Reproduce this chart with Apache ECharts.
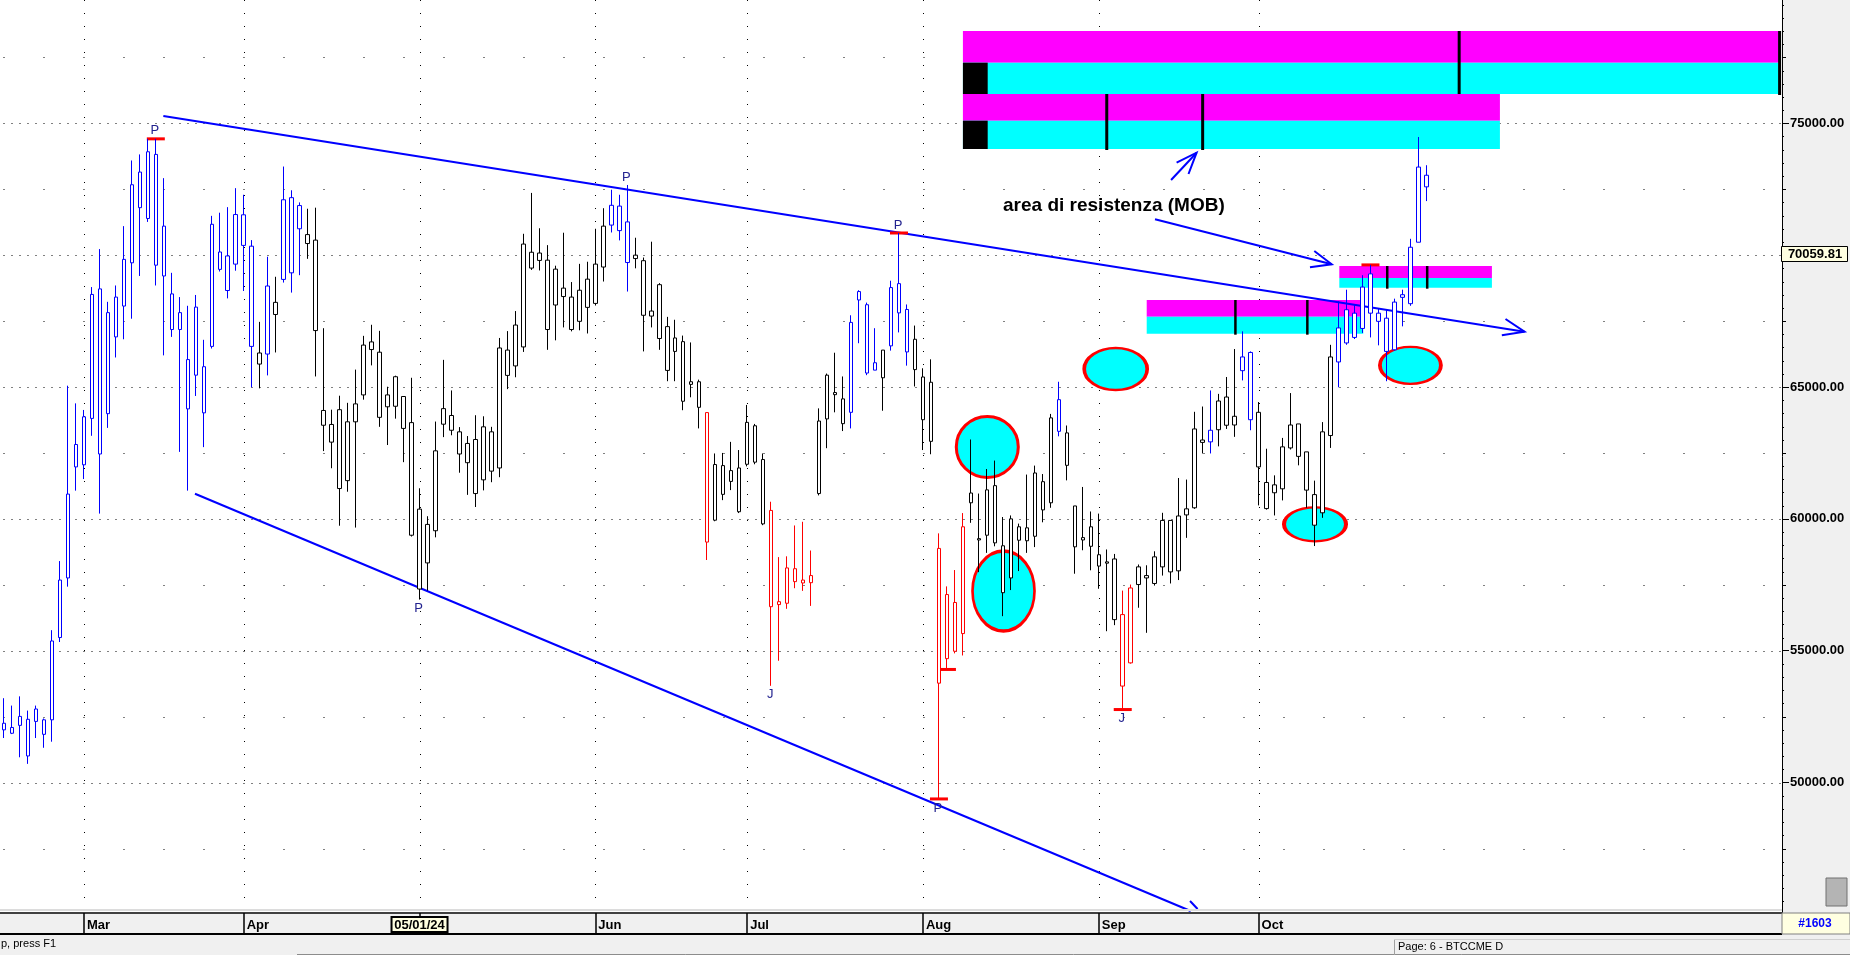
<!DOCTYPE html>
<html><head><meta charset="utf-8">
<script src="https://cdn.jsdelivr.net/npm/echarts@6/dist/echarts.min.js"></script>
<style>html,body{margin:0;padding:0;background:#f0f0f0}#c{width:1850px;height:955px}</style>
</head><body><div id="c"></div>
<script>
// ---------------- DATA ----------------
const dates = `02/15/24 02/16/24 02/20/24 02/21/24 02/22/24 02/23/24 02/26/24 02/27/24 02/28/24 02/29/24
03/01/24 03/04/24 03/05/24 03/06/24 03/07/24 03/08/24 03/11/24 03/12/24 03/13/24 03/14/24 03/15/24 03/18/24 03/19/24 03/20/24 03/21/24 03/22/24 03/25/24 03/26/24 03/27/24 03/28/24
04/01/24 04/02/24 04/03/24 04/04/24 04/05/24 04/08/24 04/09/24 04/10/24 04/11/24 04/12/24 04/15/24 04/16/24 04/17/24 04/18/24 04/19/24 04/22/24 04/23/24 04/24/24 04/25/24 04/26/24 04/29/24 04/30/24
05/01/24 05/02/24 05/03/24 05/06/24 05/07/24 05/08/24 05/09/24 05/10/24 05/13/24 05/14/24 05/15/24 05/16/24 05/17/24 05/20/24 05/21/24 05/22/24 05/23/24 05/24/24 05/28/24 05/29/24 05/30/24 05/31/24
06/03/24 06/04/24 06/05/24 06/06/24 06/07/24 06/10/24 06/11/24 06/12/24 06/13/24 06/14/24 06/17/24 06/18/24 06/20/24 06/21/24 06/24/24 06/25/24 06/26/24 06/27/24 06/28/24
07/01/24 07/02/24 07/03/24 07/05/24 07/08/24 07/09/24 07/10/24 07/11/24 07/12/24 07/15/24 07/16/24 07/17/24 07/18/24 07/19/24 07/22/24 07/23/24 07/24/24 07/25/24 07/26/24 07/29/24 07/30/24 07/31/24
08/01/24 08/02/24 08/05/24 08/06/24 08/07/24 08/08/24 08/09/24 08/12/24 08/13/24 08/14/24 08/15/24 08/16/24 08/19/24 08/20/24 08/21/24 08/22/24 08/23/24 08/26/24 08/27/24 08/28/24 08/29/24 08/30/24
09/03/24 09/04/24 09/05/24 09/06/24 09/09/24 09/10/24 09/11/24 09/12/24 09/13/24 09/16/24 09/17/24 09/18/24 09/19/24 09/20/24 09/23/24 09/24/24 09/25/24 09/26/24 09/27/24 09/30/24
10/01/24 10/02/24 10/03/24 10/04/24 10/07/24 10/08/24 10/09/24 10/10/24 10/11/24 10/14/24 10/15/24 10/16/24 10/17/24 10/18/24 10/21/24 10/22/24 10/23/24 10/24/24 10/25/24 10/28/24 10/29/24 10/30/24`.trim().split(/\s+/);

const open = [52250,51870,52510,52400,52320,52380,52380,55500,57760,61970,
62050,63810,68720,63990,66900,68070,69710,73150,71390,73820,
71100,68530,67820,64170,68030,65770,66540,70120,69970,69660,
71530,70340,65870,66250,68210,69080,72180,71000,70440,70570,
64110,63580,64140,61450,63680,64700,66710,66320,64250,65390,
64640,63650,60370,58330,59550,64180,63920,63300,62130,63010,
61480,63300,61930,66400,65800,66520,70110,70080,69810,68110,
68750,68410,67490,69090,68170,69550,71140,71860,71260,70000,
69790,67690,68880,67290,66350,66720,65200,65200,64030,59950,
62020,61420,61930,62070,63530,62250,60320,56860,56800,58110,
57680,57580,60960,63790,64790,64550,64040,68620,68120,65920,
66400,66560,68920,67940,66810,65380,65180,58880,54700,56830,
55650,60610,59250,59380,61260,58980,57760,59700,59170,59340,
61410,60610,64520,63260,60490,59200,59700,58640,58370,58480,
56370,54540,57510,57760,57550,58180,59940,58030,60380,60420,
62990,62920,63380,64620,63890,65620,66310,64040,61380,60990,
61140,62690,63600,62540,60920,60230,63160,65950,66670,67800,
67220,69290,67800,67610,66410,68500,68160,70490,73030];

const high = [53200,52920,53270,52730,52920,52430,55780,58400,65050,64380,
64130,68790,70230,68230,68850,71100,73590,73820,74410,74410,
72920,69330,68410,68080,68490,66790,71490,71610,71820,72540,
72290,70570,67470,69940,69180,73360,72460,72000,71760,71800,
67230,64140,64670,64400,65660,66940,67360,67130,65010,65430,
64650,65350,61160,60100,63690,66030,64870,63480,63140,63930,
63890,63490,66860,67120,67880,70810,72360,71020,70380,69600,
70850,68980,69670,69750,71000,71780,72480,72290,72660,70660,
69910,70510,68940,67660,67550,66950,66690,65280,64030,62480,
62500,62920,62610,64320,63600,62480,60650,58550,58580,59750,
59890,58800,64190,65510,66300,65400,67720,68670,68200,67230,
66400,69030,70840,68130,67330,65710,66050,59450,57440,58060,
60220,63010,60960,61890,62210,60070,60130,59820,61680,62020,
61700,63980,65200,63540,60490,61210,60280,60200,58840,58670,
57280,57510,58270,58240,58770,60230,59940,61550,61490,64060,
64260,64870,64740,65380,66440,67110,66350,64430,62660,61650,
63070,64770,63600,62540,61450,63670,66600,68250,68690,68120,
69240,69630,67960,67930,68350,68690,70620,74480,73410];

const low = [51690,51840,50960,50710,51690,51320,51550,55330,57430,61070,
61510,63150,60200,63450,66120,66810,67590,69210,71260,68850,
66200,66900,62540,61070,64660,62720,66460,69380,68360,69410,
68640,64990,64950,65440,66310,68960,68580,69240,69860,65400,
62570,61920,59740,61030,59670,64520,65820,63490,62800,63800,
62150,59330,56940,57280,59300,63100,63170,61750,60910,60450,
61080,61390,61580,64920,65370,66330,69440,69420,66410,66770,
67260,67110,67150,67030,68090,69000,70860,70560,68620,69500,
66350,67260,66410,65220,65220,64120,64610,63430,58440,59910,
60710,61090,60220,61990,62070,59760,53670,54620,56590,57370,
57270,56700,60890,62680,64040,63330,63430,66660,65450,65640,
64100,66380,67070,65810,65020,62610,62450,49380,54290,54900,
54820,59850,57980,58710,58960,56310,57300,58020,58710,58930,
59870,60420,63130,61460,57920,58810,58050,57350,55740,55970,
52770,54510,56630,55680,57470,57850,57550,57680,59280,60380,
62480,62480,62750,63410,63110,65250,63360,60510,60350,60130,
60700,62630,62030,60420,58970,60040,62690,64990,66600,66820,
67050,66880,66580,65220,66380,67300,68080,70490,72050];

const close = [52000,52090,52170,51010,52790,51830,55370,57680,60940,62820,
63870,68510,62460,67820,68410,69840,72670,71800,73920,69620,
69210,67180,67180,66040,65450,64020,71170,69460,68660,71540,
70370,66540,66290,68830,67750,72100,69330,71880,70780,67140,
63550,62910,61150,63680,64360,66590,66420,63850,64700,64270,
63430,59380,57340,59790,62580,63590,63360,62460,62860,60960,
63490,61810,66480,65440,67350,70420,69510,69800,67180,69470,
68430,67180,68670,68020,69660,71100,71890,70930,69720,69870,
67720,67880,66840,65630,66860,64460,65100,64230,59120,62060,
60930,61830,60270,63660,62150,59810,56670,56750,58140,57620,
57570,57850,63710,65450,64710,63610,67450,68300,65530,65640,
65350,68770,67810,66330,65660,63760,62940,53770,57130,54980,
59700,60980,59200,61100,59090,57200,60000,59190,59660,61740,
60340,63830,63320,62030,58940,59290,58960,58210,58320,56180,
53660,57380,58180,57850,58560,59940,57990,60110,60150,63410,
62900,63360,64470,63550,63560,66140,63760,61970,60390,61290,
62730,63560,62370,61090,59760,63300,66140,67240,67930,66880,
68790,67800,67490,66350,68220,68400,70300,73340,72590];

// indicator state of each bar range: B = blue, R = red (others plain)
const toneRuns = [[0,31,'B'],[33,33,'B'],[35,37,'B'],[76,78,'B'],[88,88,'R'],[96,101,'R'],
  [106,109,'B'],[111,113,'B'],[117,120,'R'],[132,132,'B'],[140,141,'R'],[151,151,'B'],
  [155,156,'B'],[167,178,'B']];

// axis tick labels
const monthTicks  = ['03/01/24','04/01/24','05/01/24','06/03/24','07/01/24','08/01/24','09/03/24','10/01/24'];
const monthLabels = ['Mar','Apr','May','Jun','Jul','Aug','Sep','Oct'];
const yTickValues = [50000,55000,60000,65000,70000,75000];
const yLabelValues = [50000,55000,60000,65000,75000];
const yLabels = ['50000.00','55000.00','60000.00','65000.00','75000.00'];
const cursorDate = '05/01/24';
const cursorDateLabel = '05/01/24';
const cursorPrice = 70059.81;
const cursorPriceLabel = '70059.81';

// resistance zones (bar-index units, prices)
const zoneX0   = [120.0, 120.0, 167.1, 143.0];
const zoneX1   = [222.3, 187.2, 186.2, 170.1];
const zoneLow  = [76111, 74025, 68766, 67022];
const zoneMid  = [77298, 75099, 69134, 67667];
const zoneHigh = [78500, 76111, 69589, 68299];
const zoneTouches = [[182.1, 222.2], [138.0, 150.0], [173.1, 178.1], [154.1, 163.1]];
const zoneOriginEnd = [123.1, 123.1, null, null];

// highlighted areas (centre bar index, centre price)
const ringX = [123.05, 125.08, 139.12, 164.06, 176.0];
const ringY = [62726, 57265, 65683, 59795, 65823];

// trend lines and hand-drawn arrows [barIndex, price]
const upperTrend = [[19.94, 75277], [190.28, 67098]];
const upperTrendHead = [[187.9, 67579], [190.28, 67098], [187.44, 66961]];
const lowerTrend = [[23.9, 60951], [148.5, 45131]];
const lowerTrendHead = [[148.42, 45511], [149.37, 45207]];
const arrowUp = [[146.05, 72850], [149.24, 73885]];
const arrowUpHead = [[146.74, 73506], [149.24, 73885], [148.23, 73077]];
const arrowZone = [[144.04, 71360], [166.15, 69653]];
const arrowZoneHead = [[163.97, 70158], [166.15, 69653], [163.43, 69540]];

const noteText = 'area di resistenza (MOB)';
const notePos = [125.02, 71883];

// pivot letters and extreme markers
const pivotBars = [19, 52, 78, 112, 117, 96, 140];
const pivotText = ['P','P','P','P','P','J','J'];
const pivotSide = ['high','low','high','high','low','low','low'];
const markBars = [19, 112, 117, 118, 140, 171];
const markSide = ['high','high','low','low','low','high'];

// ---------------- LAYOUT / STYLE ----------------
const N_CATS = 223;
const Y_MIN = 45055, Y_MAX = 79675;
const GRID = {left: 0, top: 0, width: 1782, height: 913};
const TONE = {K: '#000000', B: '#0000ff', R: '#ff0000'};
const ringSize = [[62,61],[62,80],[63,42],[62,34],[61,37]];
const FONT = '"Liberation Sans", Arial, sans-serif';

function toneAt(i) {
  for (const r of toneRuns) if (i >= r[0] && i <= r[1]) return r[2];
  return 'K';
}
const cats = dates.slice();
for (let i = dates.length; i < N_CATS; i++) cats.push('pad' + i);

const candleData = dates.map((d, i) => {
  const c = TONE[toneAt(i)];
  return {value: [open[i], close[i], low[i], high[i]],
    itemStyle: {color: '#ffffff', color0: c, borderColor: c, borderColor0: c, borderColorDoji: c}};
});

const monthIdx = monthTicks.map(d => dates.indexOf(d));

// grid line + minor tick specs
const gridSpecs = [];
for (const v of yTickValues) gridSpecs.push({kind: 'h', v, dash: [1, 7]});
for (const v of [47500, 52500, 57500, 62500, 67500, 72500, 77500]) gridSpecs.push({kind: 'h', v, dash: [1, 39]});
for (const i of monthIdx) gridSpecs.push({kind: 'v', v: i, dash: [1, 12]});
for (let v = 45500; v <= 79500; v += 500) {
  if (v % 5000 === 0) continue;
  gridSpecs.push({kind: 't', v, len: v % 2500 === 0 ? 4 : 2});
}

const idxData = n => Array.from({length: n}, (_, i) => [i, 0]);

const paths = [
  {pts: upperTrend, w: 2}, {pts: upperTrendHead, w: 2},
  {pts: lowerTrend, w: 2}, {pts: lowerTrendHead, w: 2},
  {pts: arrowUp, w: 2}, {pts: arrowUpHead, w: 2},
  {pts: arrowZone, w: 2}, {pts: arrowZoneHead, w: 2}
];

const chart = echarts.init(document.getElementById('c'), null, {renderer: 'canvas', width: 1850, height: 955});

chart.setOption({
  animation: false,
  backgroundColor: '#f0f0f0',
  grid: Object.assign({show: true, backgroundColor: '#ffffff', borderWidth: 0}, GRID),
  xAxis: [
    {type: 'category', data: cats, boundaryGap: true,
     axisLine: {show: true, onZero: false, lineStyle: {color: '#404040', width: 2}},
     axisTick: {show: true, alignWithLabel: true, length: 20, lineStyle: {color: '#000', width: 1.5},
       interval: (i, v) => monthTicks.includes(v)},
     axisLabel: {show: true, align: 'left', margin: 6, padding: [0, 0, 0, 3],
       color: '#000', fontSize: 13, fontWeight: 'bold', fontFamily: FONT,
       interval: (i, v) => monthTicks.includes(v) && v !== cursorDate,
       formatter: v => { const k = monthTicks.indexOf(v); return k >= 0 ? monthLabels[k] : ''; }},
     splitLine: {show: false}},
    {type: 'value', min: -0.5, max: N_CATS - 0.5, show: false,
     axisLine: {show: false, onZero: false}}
  ],
  yAxis: [{
    type: 'value', position: 'right', min: Y_MIN, max: Y_MAX, splitLine: {show: false},
    axisLine: {show: true, onZero: false, lineStyle: {color: '#000', width: 1}},
    axisTick: {show: true, customValues: yTickValues, length: 7, lineStyle: {color: '#000'}},
    axisLabel: {show: true, customValues: yLabelValues, margin: 8, color: '#000', fontSize: 13,
      fontWeight: 'bold', fontFamily: FONT,
      formatter: v => { const k = yLabelValues.indexOf(v); return k >= 0 ? yLabels[k] : ''; }}
  }],
  series: [
    { // dotted grid + minor price ticks
      type: 'custom', xAxisIndex: 1, yAxisIndex: 0, silent: true, data: idxData(gridSpecs.length),
      renderItem: (params, api) => {
        const s = gridSpecs[params.dataIndex], cs = params.coordSys;
        if (s.kind === 'h') {
          const y = Math.round(api.coord([0, s.v])[1]) + 0.5;
          return {type: 'line', shape: {x1: cs.x, y1: y, x2: cs.x + cs.width, y2: y},
            style: {stroke: '#000', lineWidth: 1, lineDash: s.dash, lineDashOffset: -3.5}};
        }
        if (s.kind === 't') {
          const y = Math.round(api.coord([0, s.v])[1]) + 0.5;
          const x0 = cs.x + cs.width;
          return {type: 'line', shape: {x1: x0, y1: y, x2: x0 + s.len, y2: y},
            style: {stroke: '#000', lineWidth: 1}};
        }
        const x = Math.round(api.coord([s.v, 0])[0]) + 0.5;
        return {type: 'line', shape: {x1: x, y1: cs.y, x2: x, y2: cs.y + cs.height},
          style: {stroke: '#000', lineWidth: 1, lineDash: s.dash}};
      }
    },
    { // resistance zones
      type: 'custom', xAxisIndex: 1, yAxisIndex: 0, silent: true, data: idxData(zoneX0.length),
      renderItem: (params, api) => {
        const i = params.dataIndex;
        const tl = api.coord([zoneX0[i], zoneHigh[i]]);
        const md = api.coord([zoneX1[i], zoneMid[i]]);
        const br = api.coord([zoneX1[i], zoneLow[i]]);
        const ch = [
          {type: 'rect', shape: {x: tl[0], y: tl[1], width: br[0] - tl[0], height: md[1] - tl[1]}, style: {fill: '#ff00ff'}},
          {type: 'rect', shape: {x: tl[0], y: md[1], width: br[0] - tl[0], height: br[1] - md[1]}, style: {fill: '#00ffff'}}
        ];
        if (zoneOriginEnd[i] != null) {
          const oe = api.coord([zoneOriginEnd[i], zoneLow[i]]);
          ch.push({type: 'rect', shape: {x: tl[0], y: md[1], width: oe[0] - tl[0], height: br[1] - md[1]}, style: {fill: '#000'}});
        }
        for (const t of zoneTouches[i]) {
          const x = api.coord([t, 0])[0];
          ch.push({type: 'line', shape: {x1: x, y1: tl[1], x2: x, y2: br[1] + 1}, style: {stroke: '#000', lineWidth: i < 2 ? 3 : 2.5}});
        }
        return {type: 'group', children: ch};
      }
    },
    { // highlight rings
      type: 'scatter', xAxisIndex: 1, yAxisIndex: 0, silent: true, symbol: 'circle',
      itemStyle: {color: '#00ffff', borderColor: '#ff0000', borderWidth: 3, opacity: 1},
      data: ringX.map((x, i) => ({value: [x, ringY[i]], symbolSize: ringSize[i]}))
    },
    { // candles
      type: 'candlestick', xAxisIndex: 0, yAxisIndex: 0, barWidth: 4, silent: true,
      itemStyle: {borderWidth: 1},
      data: candleData
    },
    { // trend lines and arrows
      type: 'custom', xAxisIndex: 1, yAxisIndex: 0, silent: true, clip: true, data: idxData(paths.length),
      renderItem: (params, api) => {
        const p = paths[params.dataIndex];
        return {type: 'polyline', shape: {points: p.pts.map(q => api.coord(q))},
          style: {stroke: '#0000ff', lineWidth: p.w, fill: null}};
      }
    },
    { // red extreme markers
      type: 'custom', xAxisIndex: 1, yAxisIndex: 0, silent: true, data: idxData(markBars.length),
      renderItem: (params, api) => {
        const i = params.dataIndex, b = markBars[i];
        const price = markSide[i] === 'high' ? high[b] : low[b];
        const c = api.coord([b, price]);
        return {type: 'rect', shape: {x: c[0] - 9, y: c[1] - 1.5, width: 18, height: 3}, style: {fill: '#ff0000'}};
      }
    },
    { // pivot letters + note text
      type: 'custom', xAxisIndex: 1, yAxisIndex: 0, silent: true, data: idxData(pivotBars.length + 1),
      renderItem: (params, api) => {
        const i = params.dataIndex;
        if (i === pivotBars.length) {
          const c = api.coord(notePos);
          return {type: 'text', x: c[0], y: c[1],
            style: {text: noteText, fill: '#000', font: 'bold 19px ' + FONT, align: 'left', verticalAlign: 'middle'}};
        }
        const b = pivotBars[i];
        const isHigh = pivotSide[i] === 'high';
        const c = api.coord([b, isHigh ? high[b] : low[b]]);
        return {type: 'text', x: c[0] - 1, y: c[1] + (isHigh ? -8 : 9),
          style: {text: pivotText[i], fill: '#22228f', font: '13px ' + FONT, align: 'center', verticalAlign: 'middle'}};
      }
    },
    { // cursor labels on axes
      type: 'custom', xAxisIndex: 1, yAxisIndex: 0, silent: true, data: idxData(2),
      renderItem: (params, api) => {
        const cs = params.coordSys;
        if (params.dataIndex === 0) {
          const y = api.coord([0, cursorPrice])[1];
          return {type: 'group', children: [
            {type: 'rect', shape: {x: cs.x + cs.width - 0.5, y: Math.round(y - 7.5) + 0.5, width: 66, height: 15},
              style: {fill: '#ffffe1', stroke: '#000', lineWidth: 1}},
            {type: 'text', x: cs.x + cs.width + 33, y: Math.round(y) + 0.5,
              style: {text: cursorPriceLabel, fill: '#000', font: 'bold 13px ' + FONT, align: 'center', verticalAlign: 'middle'}}
          ]};
        }
        const x = api.coord([dates.indexOf(cursorDate), 0])[0];
        const yb = cs.y + cs.height;
        return {type: 'group', children: [
          {type: 'rect', shape: {x: x - 28, y: yb + 4, width: 56, height: 15},
            style: {fill: '#ffffe1', stroke: '#000', lineWidth: 2}},
          {type: 'text', x: x, y: yb + 12,
            style: {text: cursorDateLabel, fill: '#000', font: 'bold 13px ' + FONT, align: 'center', verticalAlign: 'middle'}}
        ]};
      }
    }
  ],
  graphic: [
    {type: 'rect', shape: {x: 0, y: 909, width: 1782, height: 2}, style: {fill: '#dcdcdc'}, silent: true, z: 50},
    {type: 'rect', shape: {x: 0, y: 933, width: 1782, height: 2}, style: {fill: '#000'}, silent: true, z: 50},
    {type: 'rect', shape: {x: 1782, y: 913, width: 68, height: 21}, style: {fill: '#ffffe1', stroke: '#808080', lineWidth: 1}, silent: true, z: 50},
    {type: 'text', x: 1815, y: 924, style: {text: '#1603', fill: '#0000ff', font: 'bold 12px ' + FONT, align: 'center', verticalAlign: 'middle'}, silent: true, z: 51},
    {type: 'rect', shape: {x: 1826, y: 878, width: 21, height: 28}, style: {fill: '#b4b4b4', stroke: '#707070', lineWidth: 1}, silent: true, z: 50},
    {type: 'text', x: 1, y: 944, style: {text: 'p, press F1', fill: '#000', font: '11px ' + FONT, align: 'left', verticalAlign: 'middle'}, silent: true, z: 50},
    {type: 'line', shape: {x1: 297, y1: 954.5, x2: 1850, y2: 954.5}, style: {stroke: '#8c8c8c', lineWidth: 1}, silent: true, z: 50},
    {type: 'line', shape: {x1: 1394.5, y1: 939, x2: 1394.5, y2: 955}, style: {stroke: '#a0a0a0', lineWidth: 1}, silent: true, z: 50},
    {type: 'line', shape: {x1: 1394, y1: 939.5, x2: 1850, y2: 939.5}, style: {stroke: '#d0d0d0', lineWidth: 1}, silent: true, z: 50},
    {type: 'text', x: 1398, y: 947, style: {text: 'Page: 6 - BTCCME D', fill: '#000', font: '11px ' + FONT, align: 'left', verticalAlign: 'middle'}, silent: true, z: 50}
  ]
});
</script>
</body></html>
